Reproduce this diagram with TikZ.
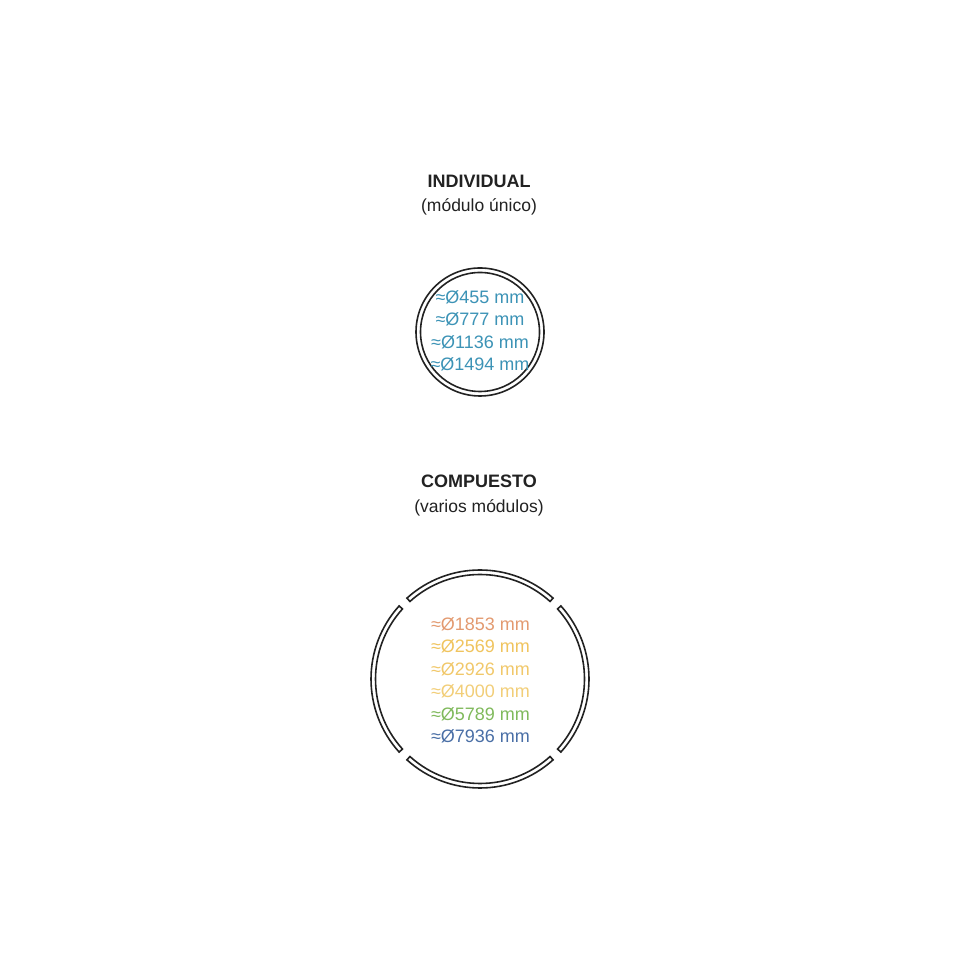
\documentclass[tikz,border=0pt]{standalone}
\usepackage{fontspec}
\setmainfont{Liberation Sans}
\usetikzlibrary{calc}
\definecolor{ink}{HTML}{222222}
\definecolor{smallblue}{HTML}{3C93B6}
\definecolor{corange}{HTML}{E39A70}
\definecolor{cyellowA}{HTML}{F0C45E}
\definecolor{cyellowB}{HTML}{F1C86A}
\definecolor{cyellowC}{HTML}{F2CE78}
\definecolor{cgreen}{HTML}{80BA5C}
\definecolor{cblue}{HTML}{4A6FA6}
\tikzset{
  title/.style={anchor=base, inner sep=0pt, text=ink, font=\fontsize{18}{20}\selectfont\bfseries},
  subtitle/.style={anchor=base, inner sep=0pt, text=ink, font=\fontsize{17.5}{20}\selectfont},
  meas/.style={anchor=base, inner sep=0pt, font=\fontsize{18}{20}\selectfont},
  ring/.style={draw=ink, line width=1.6pt},
}
\begin{document}
\begin{tikzpicture}[x=1pt,y=1pt]
\useasboundingbox (0,0) rectangle (960,960);
\fill[white] (0,0) rectangle (960,960);

% ---- Individual ----
\node[title] (t1) at (479,772.5) {INDIVIDUAL};
\node[subtitle] (s1) at (479,748) {(módulo único)};
\coordinate (c1) at (480,628);
\draw[ring] (c1) circle[radius=64];
\draw[ring] (c1) circle[radius=59.5];
\node[meas, text=smallblue] (m1) at (480,656.5) {≈Ø455 mm};
\node[meas, text=smallblue] (m2) at (480,634) {≈Ø777 mm};
\node[meas, text=smallblue] (m3) at (480,611.5) {≈Ø1136 mm};
\node[meas, text=smallblue] (m4) at (480,589.5) {≈Ø1494 mm};

% ---- Compuesto ----
\node[title] (t2) at (479,472.5) {COMPUESTO};
\node[subtitle] (s2) at (479,447) {(varios módulos)};
\coordinate (c2) at (480,281);
\foreach \a in {45,135,225,315}{
  \pgfmathsetmacro{\aa}{\a+2.9}
  \pgfmathsetmacro{\ab}{\a+90-2.9}
  \draw[ring, line join=miter] ($(c2)+(\aa:109)$) arc[start angle=\aa, end angle=\ab, radius=109]
     -- ($(c2)+(\ab:104.5)$) arc[start angle=\ab, end angle=\aa, radius=104.5] -- cycle;
}
\node[meas, text=corange] (n1) at (480.5,329.5) {≈Ø1853 mm};
\node[meas, text=cyellowA] (n2) at (480.5,307.5) {≈Ø2569 mm};
\node[meas, text=cyellowB] (n3) at (480.5,284.5) {≈Ø2926 mm};
\node[meas, text=cyellowC] (n4) at (480.5,262.5) {≈Ø4000 mm};
\node[meas, text=cgreen] (n5) at (480.5,239.5) {≈Ø5789 mm};
\node[meas, text=cblue] (n6) at (480.5,217.5) {≈Ø7936 mm};
\end{tikzpicture}
\end{document}
